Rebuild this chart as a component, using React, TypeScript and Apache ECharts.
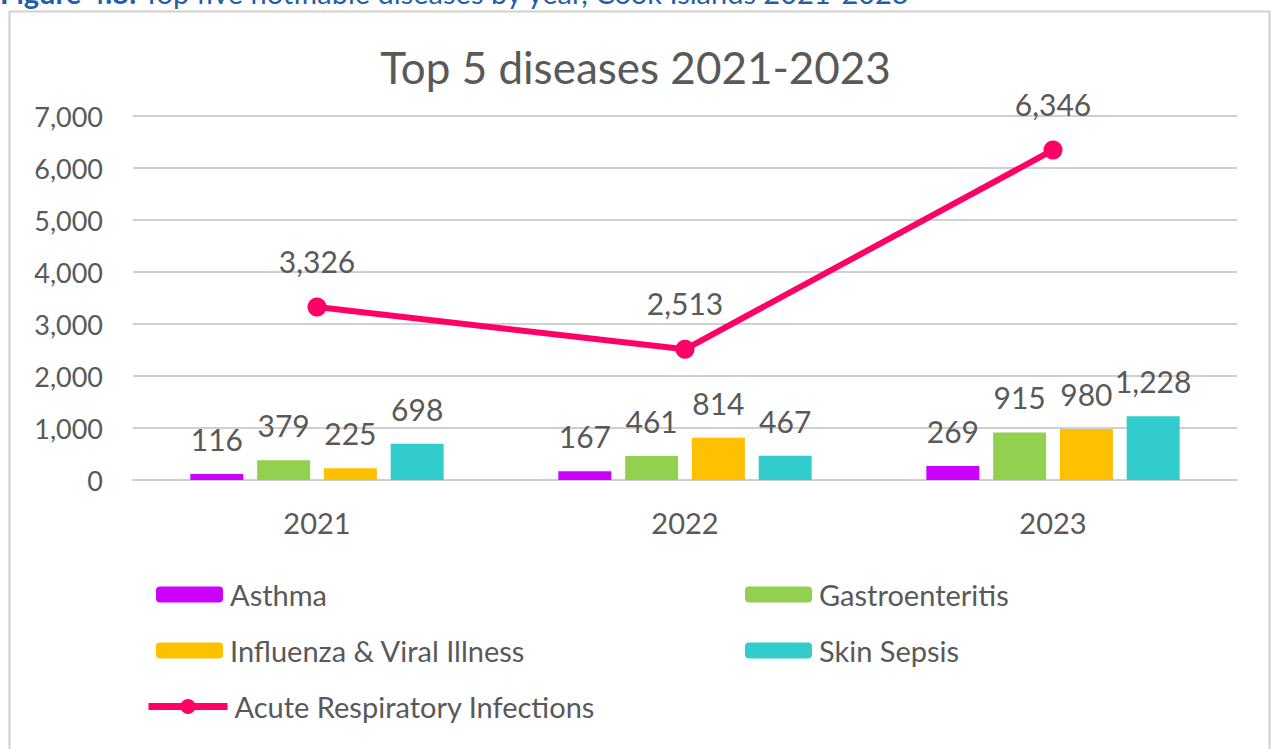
import React, { useEffect, useRef } from "react";
import * as echarts from "echarts";

const years = ["2021", "2022", "2023"];
const asthma = [116, 167, 269];
const gastro = [379, 461, 915];
const influenza = [225, 814, 980];
const skinSepsis = [698, 467, 1228];
const ari = [3326, 2513, 6346];
const yTicks = [0, 1000, 2000, 3000, 4000, 5000, 6000, 7000];

const FONT = "Lato, 'Open Sans', sans-serif";
const TXT = "#595959";
const fmt = (v: number) => v.toLocaleString("en-US");

export default function App() {
  const ref = useRef<HTMLDivElement>(null);
  useEffect(() => {
    if (!ref.current) return;
    const chart = echarts.init(ref.current, undefined, { renderer: "svg" });
    const barLabel = {
      show: true,
      position: "top",
      distance: 20,
      fontSize: 30,
      color: TXT,
      fontFamily: FONT,
      formatter: (p: any) => fmt(p.value),
    };
    const bar = (name: string, data: number[], color: string) => ({
      name,
      type: "bar",
      data,
      barWidth: 53,
      barGap: "26%",
      itemStyle: { color },
      label: barLabel,
    });
    const legendItem = (name: string, left: number, top: number, w = 67, h = 16) => ({
      data: [name],
      left,
      top,
      orient: "horizontal",
      itemWidth: w,
      itemHeight: h,
      itemGap: 0,
      lineStyle: { width: 7 },
      textStyle: { fontSize: 29, color: TXT, fontFamily: FONT, padding: [0, 0, 0, 2] },
      selectedMode: false,
    });
    chart.setOption({
      animation: false,
      backgroundColor: "#ffffff",
      textStyle: { fontFamily: FONT },
      title: {
        text: "Top 5 diseases 2021-2023",
        left: "center",
        top: 40,
        textStyle: { fontSize: 44, fontWeight: "normal", color: TXT, fontFamily: FONT },
      },
      graphic: [
        {
          type: "rect",
          left: 7,
          top: 9,
          shape: { width: 1260, height: 760 },
          style: { fill: "none", stroke: "#cfcfcf", lineWidth: 2 },
          silent: true,
        },
        {
          type: "text",
          left: 0,
          top: -22,
          style: {
            text: "{b|Figure 4.8:} Top five notifiable diseases by year, Cook Islands 2021-2023",
            fontSize: 29,
            fill: "#1f5fa8",
            fontFamily: FONT,
            rich: { b: { fontSize: 29, fontWeight: "bold", fill: "#1f5fa8", fontFamily: FONT } },
          },
        },
      ],
      legend: [
        legendItem("Asthma", 151, 575),
        legendItem("Gastroenteritis", 740, 575),
        legendItem("Influenza & Viral Illness", 151, 631),
        legendItem("Skin Sepsis", 740, 631),
        legendItem("Acute Respiratory Infections", 140, 687, 79, 19),
      ],
      grid: { left: 133, right: 34, top: 116, bottom: 269, containLabel: false },
      xAxis: {
        type: "category",
        data: years,
        axisTick: { show: false },
        axisLine: { lineStyle: { color: "#d0d0d0", width: 2 } },
        axisLabel: { fontSize: 29, color: TXT, fontFamily: FONT, margin: 28 },
      },
      yAxis: {
        type: "value",
        min: 0,
        max: yTicks[yTicks.length - 1],
        interval: 1000,
        axisLine: { show: false },
        axisTick: { show: false },
        splitLine: { lineStyle: { color: "#d0d0d0", width: 2 } },
        axisLabel: {
          fontSize: 27,
          color: TXT,
          fontFamily: FONT,
          margin: 30,
          formatter: (v: number) => fmt(v),
        },
      },
      series: [
        bar("Asthma", asthma, "#cc00ff"),
        bar("Gastroenteritis", gastro, "#92d050"),
        bar("Influenza & Viral Illness", influenza, "#ffc000"),
        bar("Skin Sepsis", skinSepsis, "#33cccc"),
        {
          name: "Acute Respiratory Infections",
          type: "line",
          data: ari,
          symbol: "circle",
          symbolSize: 19,
          lineStyle: { color: "#ff0066", width: 6 },
          itemStyle: { color: "#ff0066" },
          label: {
            show: true,
            position: "top",
            distance: 22,
            fontSize: 30,
            color: TXT,
            fontFamily: FONT,
            formatter: (p: any) => fmt(p.value),
          },
          z: 5,
        },
      ],
    });
    return () => chart.dispose();
  }, []);
  return (
    <div
      ref={ref}
      style={{ position: "absolute", left: 0, top: 0, width: 1271, height: 749 }}
    />
  );
}
